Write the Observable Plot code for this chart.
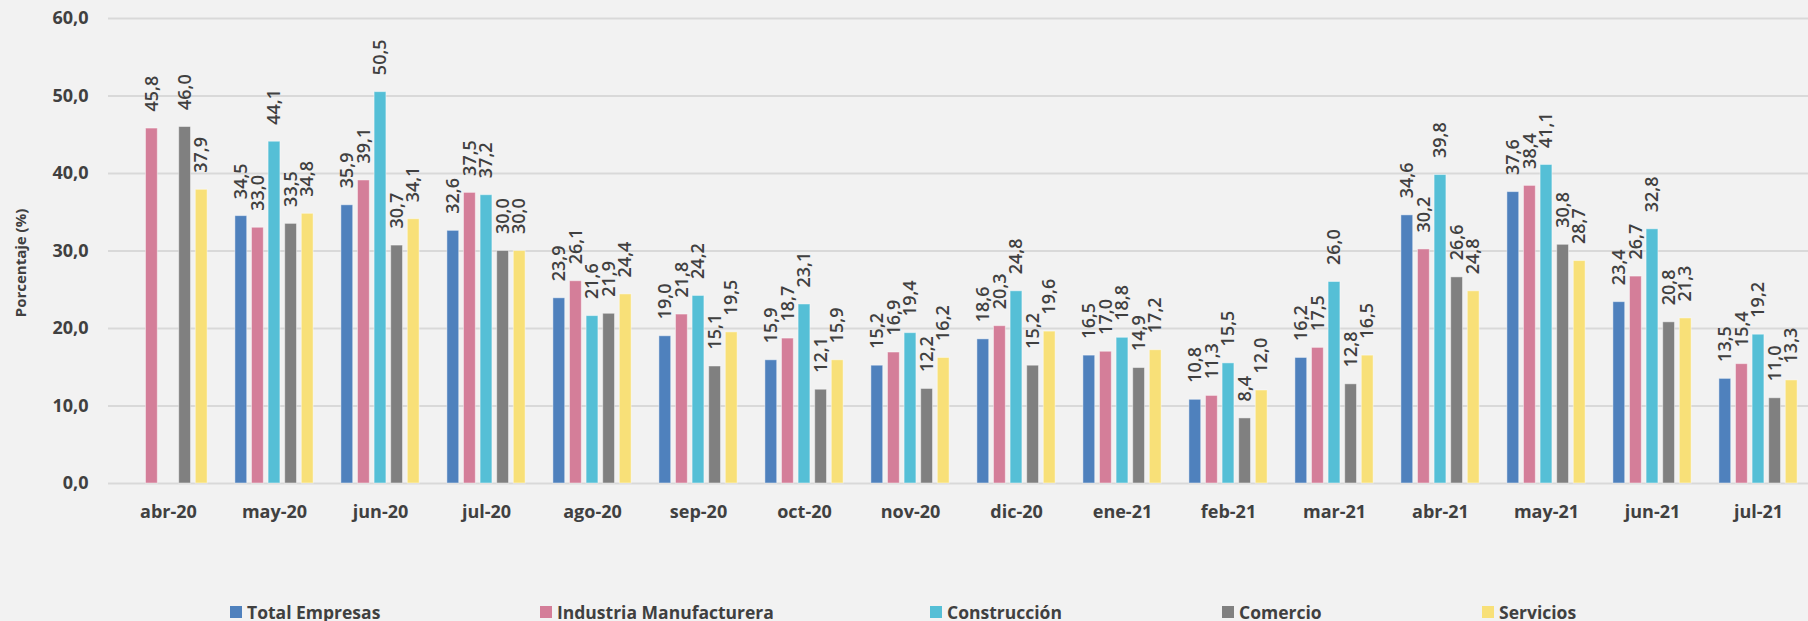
<!DOCTYPE html>
<html>
<head>
<meta charset="utf-8">
<script src="https://cdn.jsdelivr.net/npm/d3@7"></script>
<script src="https://cdn.jsdelivr.net/npm/@observablehq/plot@0.6"></script>
<style>
  html, body { margin: 0; padding: 0; background: #F2F2F2; }
  body { width: 1808px; height: 621px; overflow: hidden; position: relative; font-family: "Open Sans", "Noto Sans", sans-serif; }
  #legend { position: absolute; left: 0; top: 599px; width: 1808px; height: 26px; }
  .item { position: absolute; top: 0; height: 26px; display: flex; align-items: center; font-weight: 700; font-size: 17.5px; color: #404040; white-space: nowrap; }
  .sw { width: 12px; height: 12px; margin-right: 5px; }
</style>
</head>
<body>
<div id="chart"></div>
<div id="legend"></div>
<script>
const months = ["abr-20","may-20","jun-20","jul-20","ago-20","sep-20","oct-20","nov-20","dic-20","ene-21","feb-21","mar-21","abr-21","may-21","jun-21","jul-21"];
const seriesNames = ["Total Empresas","Industria Manufacturera","Construcción","Comercio","Servicios"];
const colors = ["#4F81BD","#D47E99","#55BFD6","#808080","#F8E078"];
const totalEmpresas = [null,34.5,35.9,32.6,23.9,19.0,15.9,15.2,18.6,16.5,10.8,16.2,34.6,37.6,23.4,13.5];
const industria     = [45.8,33.0,39.1,37.5,26.1,21.8,18.7,16.9,20.3,17.0,11.3,17.5,30.2,38.4,26.7,15.4];
const construccion  = [null,44.1,50.5,37.2,21.6,24.2,23.1,19.4,24.8,18.8,15.5,26.0,39.8,41.1,32.8,19.2];
const comercio      = [46.0,33.5,30.7,30.0,21.9,15.1,12.1,12.2,15.2,14.9,8.4,12.8,26.6,30.8,20.8,11.0];
const servicios     = [37.9,34.8,34.1,30.0,24.4,19.5,15.9,16.2,19.6,17.2,12.0,16.5,24.8,28.7,21.3,13.3];
const yTicks = [0,10,20,30,40,50,60];

const seriesValues = [totalEmpresas, industria, construccion, comercio, servicios];
const rows = [];
seriesValues.forEach((vals, s) => vals.forEach((v, m) => {
  if (v != null) rows.push({month: months[m], series: seriesNames[s], value: v});
}));

const fmt = v => v.toFixed(1).replace(".", ",");
const step = 16.6, barW = 12.7, band = (1818 - 108) / months.length;
const inset = (band - barW) / 2;

const marks = [
  Plot.ruleY(yTicks, {stroke: "#D9D9D9", strokeWidth: 2})
];
seriesNames.forEach((name, i) => {
  const d = rows.filter(r => r.series === name);
  marks.push(Plot.barY(d, {x: "month", y: "value", fill: "series", dx: (i - 2) * step,
    insetLeft: inset, insetRight: inset, stroke: "#ffffff", strokeOpacity: 0.45, strokeWidth: 1}));
  marks.push(Plot.text(d, {x: "month", y: "value", text: r => fmt(r.value), rotate: -90,
    textAnchor: "start", dx: (i - 2) * step, dy: -17, fill: "#404040",
    fontSize: 18, fontWeight: 600}));
});
marks.push(Plot.axisY(yTicks, {tickSize: 0, tickPadding: 20, tickFormat: fmt, fontSize: 18, fontWeight: 700, fill: "#404040", label: null}));
marks.push(Plot.axisX({tickSize: 0, tickPadding: 22, fontSize: 18, fontWeight: 700, fill: "#404040", label: null}));
marks.push(Plot.text(["Porcentaje (%)"], {frameAnchor: "left", rotate: -90, dx: -87, dy: 12, fontSize: 15, fontWeight: 700, fill: "#404040", textAnchor: "middle"}));

const chart = Plot.plot({
  width: 1808,
  height: 600,
  marginLeft: 108,
  marginRight: 0,
  marginTop: 18,
  marginBottom: 117,
  style: {background: "#F2F2F2", fontFamily: "'Open Sans', 'Noto Sans', sans-serif", overflow: "visible"},
  x: {type: "band", domain: months, range: [108, 1818], padding: 0},
  y: {domain: [0, 60]},
  color: {domain: seriesNames, range: colors},
  marks
});
document.getElementById("chart").appendChild(chart);

const legendX = [230, 540, 930, 1222, 1482];
const legend = document.getElementById("legend");
seriesNames.forEach((name, i) => {
  const it = document.createElement("div");
  it.className = "item";
  it.style.left = legendX[i] + "px";
  const sw = document.createElement("span");
  sw.className = "sw";
  sw.style.background = colors[i];
  it.appendChild(sw);
  it.appendChild(document.createTextNode(name));
  legend.appendChild(it);
});
</script>
</body>
</html>
